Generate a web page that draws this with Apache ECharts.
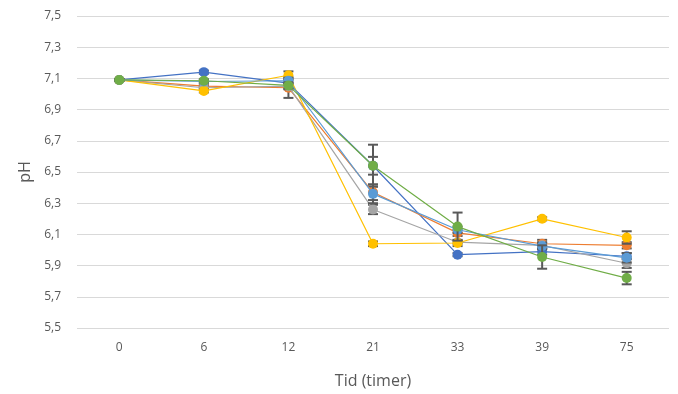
<!DOCTYPE html>
<html>
<head>
	<meta charset="utf-8">
	<title>pH</title>
	<script src="https://cdn.jsdelivr.net/npm/echarts@6/dist/echarts.min.js"></script>
</head>
<body style="margin:0;">
	<div style="width:678px;height:394px;" id="chart1"></div>
	<script type="text/javascript">

    var hours = ['0', '6', '12', '21', '33', '39', '75'];
    var names = ['S1', 'S2', 'S3', 'S4', 'S5', 'S6'];
    var colors = ['#4472C4', '#ED7D31', '#A5A5A5', '#FFC000', '#5B9BD5', '#70AD47'];

    var blue      = [7.09, 7.14, 7.07, 6.54, 5.97, 5.99, 5.96];
    var orange    = [7.09, 7.05, 7.04, 6.37, 6.11, 6.04, 6.03];
    var gray      = [7.09, 7.04, 7.05, 6.26, 6.05, 6.03, 5.915];
    var yellow    = [7.09, 7.02, 7.12, 6.04, 6.045, 6.20, 6.08];
    var lightblue = [7.09, 7.08, 7.085, 6.36, 6.13, 6.025, 5.95];
    var green     = [7.09, 7.085, 7.055, 6.54, 6.15, 5.955, 5.82];

    // error (+/-)
    var blueErr      = [0.005, 0.01, 0.02, 0.135, 0.01, 0.02, 0.02];
    var orangeErr    = [0.005, 0.01, 0.065, 0.05, 0.02, 0.025, 0.02];
    var grayErr      = [0.005, 0.01, 0.02, 0.03, 0.01, 0.02, 0.03];
    var yellowErr    = [0.005, 0.01, 0.025, 0.015, 0.02, 0.01, 0.04];
    var lightblueErr = [0.005, 0.01, 0.02, 0.06, 0.02, 0.02, 0.03];
    var greenErr     = [0.005, 0.01, 0.02, 0.057, 0.09, 0.075, 0.04];

    var values = [blue, orange, gray, yellow, lightblue, green];
    var errs = [blueErr, orangeErr, grayErr, yellowErr, lightblueErr, greenErr];

    var font = 'Open Sans';

    function errItem(params, api) {
        var x = api.value(0);
        var lo = api.coord([x, api.value(1)]);
        var hi = api.coord([x, api.value(2)]);
        var w = 5;
        var st = {stroke: '#595959', lineWidth: 2};
        return {
            type: 'group',
            children: [
                {type: 'line', shape: {x1: lo[0], y1: lo[1], x2: hi[0], y2: hi[1]}, style: st},
                {type: 'line', shape: {x1: lo[0] - w, y1: lo[1], x2: lo[0] + w, y2: lo[1]}, style: st},
                {type: 'line', shape: {x1: hi[0] - w, y1: hi[1], x2: hi[0] + w, y2: hi[1]}, style: st}
            ]
        };
    }

    var series = [];
    for (var i = 0; i < values.length; i++) {
        var ed = [];
        for (var j = 0; j < hours.length; j++) {
            ed.push([j, values[i][j] - errs[i][j], values[i][j] + errs[i][j]]);
        }
        series.push({
            name: names[i] + ' err',
            type: 'custom',
            renderItem: errItem,
            data: ed,
            z: 1 + i * 2,
            silent: true
        });
        series.push({
            name: names[i],
            type: 'line',
            data: values[i],
            symbol: 'circle',
            symbolSize: 10,
            z: 2 + i * 2,
            itemStyle: {color: colors[i]},
            lineStyle: {color: colors[i], width: 1.2}
        });
    }

    var myChart = echarts.init(document.getElementById('chart1'));
    var option = {
        animation: false,
        grid: {left: 77, right: 9, top: 16, bottom: 65},
        xAxis: {
            type: 'category',
            data: hours,
            name: 'Tid (timer)',
            nameLocation: 'middle',
            nameGap: 45,
            nameTextStyle: {color: '#595959', fontSize: 16, fontFamily: font},
            axisLine: {show: false},
            axisTick: {show: false},
            axisLabel: {color: '#595959', fontSize: 12, fontFamily: font, margin: 14}
        },
        yAxis: {
            type: 'value',
            min: 5.5,
            max: 7.5,
            interval: 0.2,
            name: 'pH',
            nameLocation: 'middle',
            nameGap: 43,
            nameTextStyle: {color: '#595959', fontSize: 16, fontFamily: font},
            axisLabel: {
                color: '#595959', fontSize: 12, fontFamily: font, margin: 16,
                formatter: function (v) { return v.toFixed(1).replace('.', ','); }
            },
            splitLine: {lineStyle: {color: '#d9d9d9', width: 1}}
        },
        series: series
    };
    myChart.setOption(option, true);

	</script>
</body>
</html>
